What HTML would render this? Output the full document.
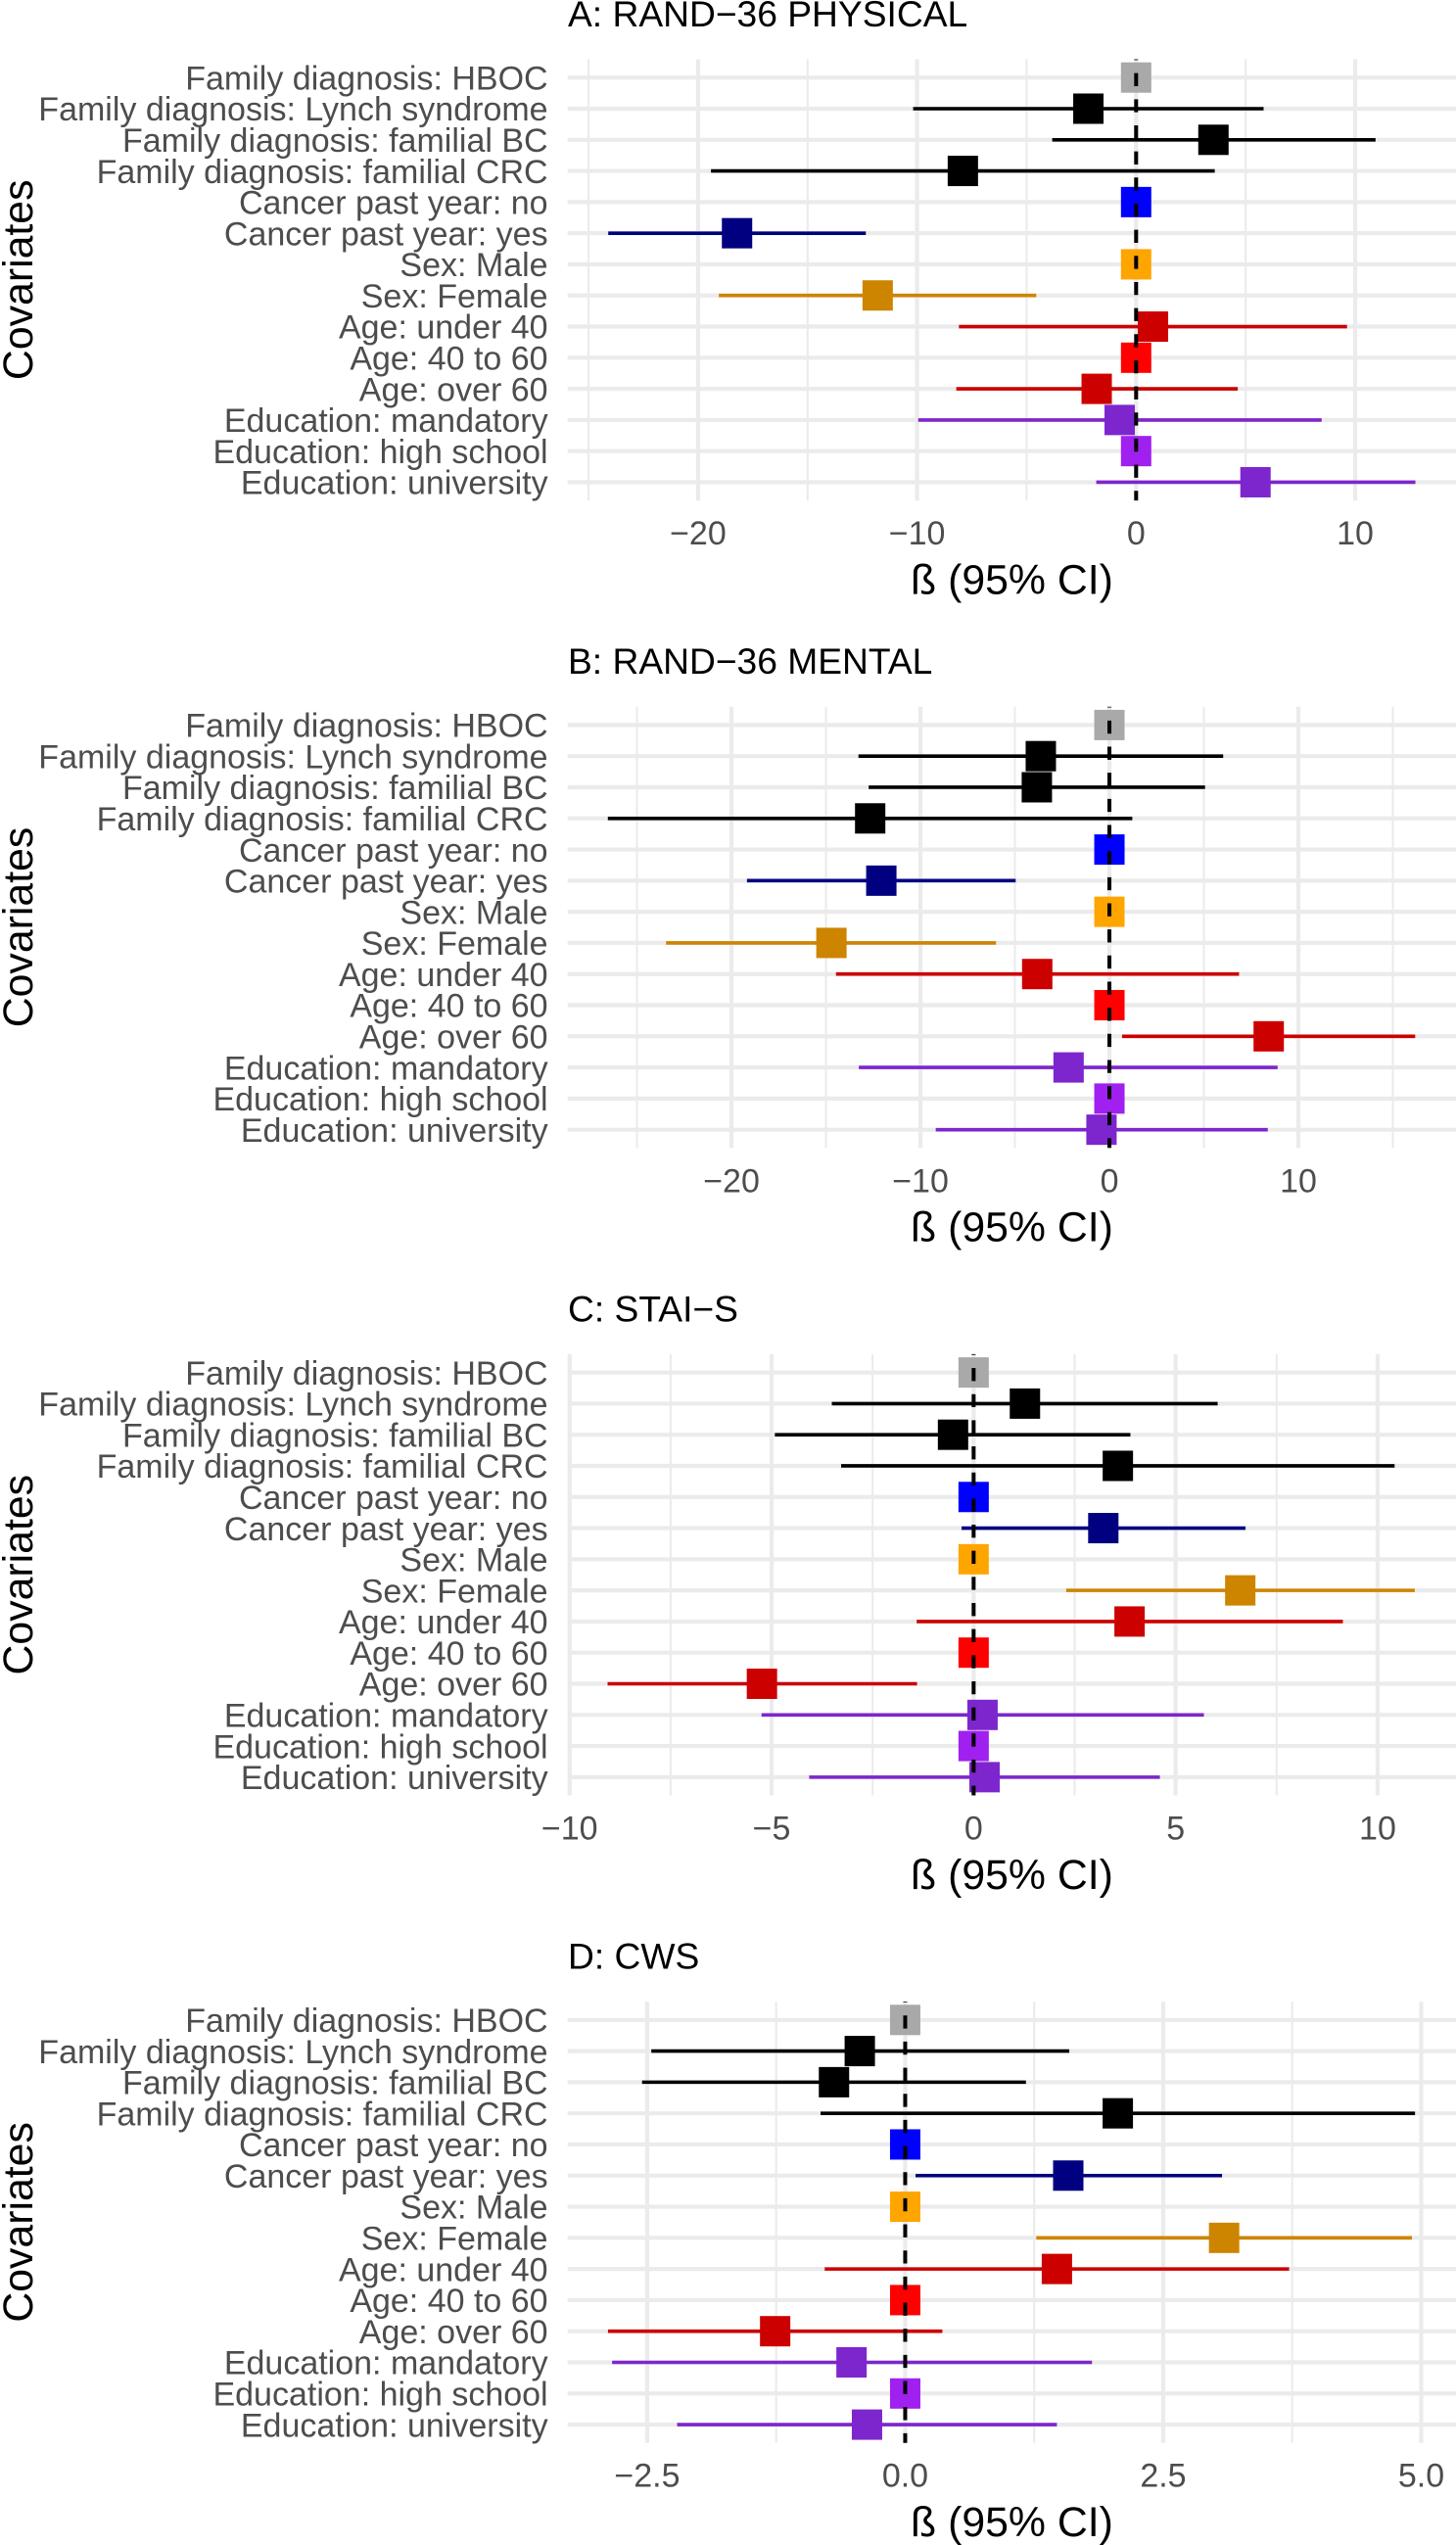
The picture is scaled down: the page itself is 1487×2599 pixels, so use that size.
<!DOCTYPE html>
<html lang="en">
<head>
<meta charset="utf-8">
<title>Forest plots: RAND-36, STAI-S, CWS</title>
<style>
html,body{margin:0;padding:0;background:#fff;}
svg{display:block;font-family:"Liberation Sans",Arial,sans-serif;}
.panel-title{font-size:37.2px;fill:#000;}
.axis-title{font-size:42.8px;fill:#000;}
.tick-text{font-size:34px;fill:#4D4D4D;}
</style>
</head>
<body>
<svg id="chart" xmlns="http://www.w3.org/2000/svg" width="1487" height="2599" viewBox="0 0 1487 2599">
  <rect x="0" y="0" width="1487" height="2599" fill="#ffffff"/>

  <g id="panel-a">
    <text class="panel-title" x="580" y="27">A: RAND−36 PHYSICAL</text>
    <text class="axis-title" x="1033.5" y="606.5" text-anchor="middle">ß (95% CI)</text>
    <text class="axis-title" text-anchor="middle" transform="translate(33,285.8) rotate(-90)">Covariates</text>
  </g>
  <g id="panel-b">
    <text class="panel-title" x="580" y="688.2">B: RAND−36 MENTAL</text>
    <text class="axis-title" x="1033.5" y="1267.7" text-anchor="middle">ß (95% CI)</text>
    <text class="axis-title" text-anchor="middle" transform="translate(33,947) rotate(-90)">Covariates</text>
  </g>
  <g id="panel-c">
    <text class="panel-title" x="580" y="1349.4">C: STAI−S</text>
    <text class="axis-title" x="1033.5" y="1928.9" text-anchor="middle">ß (95% CI)</text>
    <text class="axis-title" text-anchor="middle" transform="translate(33,1608.2) rotate(-90)">Covariates</text>
  </g>
  <g id="panel-d">
    <text class="panel-title" x="580" y="2010.6">D: CWS</text>
    <text class="axis-title" x="1033.5" y="2590.1" text-anchor="middle">ß (95% CI)</text>
    <text class="axis-title" text-anchor="middle" transform="translate(33,2269.4) rotate(-90)">Covariates</text>
  </g>
</svg>
<script>
// Shared categories (top to bottom)
const categories = [
  "Family diagnosis: HBOC",
  "Family diagnosis: Lynch syndrome",
  "Family diagnosis: familial BC",
  "Family diagnosis: familial CRC",
  "Cancer past year: no",
  "Cancer past year: yes",
  "Sex: Male",
  "Sex: Female",
  "Age: under 40",
  "Age: 40 to 60",
  "Age: over 60",
  "Education: mandatory",
  "Education: high school",
  "Education: university"
];
const categoryColors = ["#A9A9A9","#000000","#000000","#000000","#0000FF","#000080","#FFA500","#CD8500","#CD0000","#FF0000","#CD0000","#7D26CD","#A020F0","#7D26CD"];

// Panel A: RAND-36 PHYSICAL
const panelABeta  = [0, -2.18, 3.53, -7.91, 0, -18.22, 0, -11.80, 0.77, 0, -1.80, -0.75, 0, 5.45];
const panelALower = [0, -10.18, -3.83, -19.41, 0, -24.10, 0, -19.05, -8.09, 0, -8.21, -9.95, 0, -1.82];
const panelAUpper = [0, 5.82, 10.93, 3.59, 0, -12.34, 0, -4.56, 9.63, 0, 4.64, 8.47, 0, 12.75];
const panelADomain = [-25.955, 14.604];
const panelAMajorTicks = [-20, -10, 0, 10];
const panelAMinorTicks = [-25, -15, -5, 5];
const panelATickLabels = ["−20", "−10", "0", "10"];

// Panel B: RAND-36 MENTAL
const panelBBeta  = [0, -3.63, -3.84, -12.66, 0, -12.07, 0, -14.71, -3.82, 0, 8.43, -2.16, 0, -0.42];
const panelBLower = [0, -13.28, -12.74, -26.54, 0, -19.18, 0, -23.46, -14.47, 0, 0.67, -13.26, 0, -9.19];
const panelBUpper = [0, 6.02, 5.06, 1.21, 0, -4.96, 0, -6.00, 6.86, 0, 16.18, 8.90, 0, 8.38];
const panelBDomain = [-28.67, 18.34];
const panelBMajorTicks = [-20, -10, 0, 10];
const panelBMinorTicks = [-25, -15, -5, 5, 15];
const panelBTickLabels = ["−20", "−10", "0", "10"];

// Panel C: STAI-S
const panelCBeta  = [0, 1.27, -0.51, 3.57, 0, 3.21, 0, 6.60, 3.86, 0, -5.24, 0.22, 0, 0.27];
const panelCLower = [0, -3.51, -4.92, -3.28, 0, -0.30, 0, 2.29, -1.41, 0, -9.06, -5.25, 0, -4.07];
const panelCUpper = [0, 6.04, 3.88, 10.42, 0, 6.73, 0, 10.92, 9.14, 0, -1.40, 5.70, 0, 4.61];
const panelCDomain = [-10.05, 11.94];
const panelCMajorTicks = [-10, -5, 0, 5, 10];
const panelCMinorTicks = [-7.5, -2.5, 2.5, 7.5];
const panelCTickLabels = ["−10", "−5", "0", "5", "10"];

// Panel D: CWS
const panelDBeta  = [0, -0.44, -0.69, 2.06, 0, 1.58, 0, 3.09, 1.47, 0, -1.26, -0.52, 0, -0.37];
const panelDLower = [0, -2.46, -2.55, -0.82, 0, 0.10, 0, 1.27, -0.78, 0, -2.88, -2.84, 0, -2.21];
const panelDUpper = [0, 1.59, 1.17, 4.94, 0, 3.07, 0, 4.91, 3.72, 0, 0.36, 1.81, 0, 1.47];
const panelDDomain = [-3.271, 5.337];
const panelDMajorTicks = [-2.5, 0, 2.5, 5];
const panelDMinorTicks = [-1.25, 1.25, 3.75];
const panelDTickLabels = ["−2.5", "0.0", "2.5", "5.0"];

const SVG_NS = "http://www.w3.org/2000/svg";
const PLOT_LEFT = 579.7, PLOT_RIGHT = 1487;
const PANEL_STEP = 661.2, PLOT_TOP = 60.5, PLOT_BOTTOM = 511.1;
const ROW_FIRST = 79.2, ROW_STEP = 31.79;
const MARK_SIZE = 31;

function shape(tag, attrs, parent) {
  const el = document.createElementNS(SVG_NS, tag);
  for (const k in attrs) el.setAttribute(k, attrs[k]);
  parent.appendChild(el);
  return el;
}

function drawPanel(id, index, beta, lower, upper, domain, majorTicks, minorTicks, tickLabels) {
  const root = document.getElementById("panel-" + id);
  const dy = index * PANEL_STEP;
  const top = PLOT_TOP + dy, bottom = PLOT_BOTTOM + dy;
  const xScale = v => PLOT_LEFT + (v - domain[0]) / (domain[1] - domain[0]) * (PLOT_RIGHT - PLOT_LEFT);
  const yScale = i => ROW_FIRST + dy + i * ROW_STEP;

  minorTicks.forEach(t => {
    const el = shape("line", {x1: xScale(t), x2: xScale(t), y1: top, y2: bottom, stroke: "#EBEBEB", "stroke-width": 2.1}, root);
    
    
  });
  majorTicks.forEach(t => {
    const el = shape("line", {x1: xScale(t), x2: xScale(t), y1: top, y2: bottom, stroke: "#EBEBEB", "stroke-width": 4.2}, root);
    
    
  });
  categories.forEach((c, i) => {
    const el = shape("line", {x1: PLOT_LEFT, x2: PLOT_RIGHT, y1: yScale(i), y2: yScale(i), stroke: "#EBEBEB", "stroke-width": 4.2}, root);
    
    
  });

  categories.forEach((c, i) => {
    const el = shape("text", {x: 559.6, y: yScale(i) + 12.2, "text-anchor": "end", "class": "tick-text"}, root);
    el.textContent = c;
    
    
  });
  majorTicks.forEach((t, i) => {
    const el = shape("text", {x: xScale(t), y: bottom + 45, "text-anchor": "middle", "class": "tick-text"}, root);
    el.textContent = tickLabels[i];
    
    
  });

  categories.forEach((c, i) => {
    if (lower[i] === upper[i]) return;
    const el = shape("line", {x1: xScale(lower[i]), x2: xScale(upper[i]), y1: yScale(i), y2: yScale(i), stroke: categoryColors[i], "stroke-width": 3.6}, root);
    
    
  });
  categories.forEach((c, i) => {
    const el = shape("rect", {x: xScale(beta[i]) - MARK_SIZE / 2, y: yScale(i) - MARK_SIZE / 2, width: MARK_SIZE, height: MARK_SIZE, fill: categoryColors[i]}, root);
    
    
  });

  const ref = shape("line", {x1: xScale(0), x2: xScale(0), y1: top, y2: bottom, stroke: "#000", "stroke-width": 4, "stroke-dasharray": "13.33 13.33", "stroke-dashoffset": 12.5}, root);
  
  
}

drawPanel("a", 0, panelABeta, panelALower, panelAUpper, panelADomain, panelAMajorTicks, panelAMinorTicks, panelATickLabels);
drawPanel("b", 1, panelBBeta, panelBLower, panelBUpper, panelBDomain, panelBMajorTicks, panelBMinorTicks, panelBTickLabels);
drawPanel("c", 2, panelCBeta, panelCLower, panelCUpper, panelCDomain, panelCMajorTicks, panelCMinorTicks, panelCTickLabels);
drawPanel("d", 3, panelDBeta, panelDLower, panelDUpper, panelDDomain, panelDMajorTicks, panelDMinorTicks, panelDTickLabels);
</script>
</body>
</html>
